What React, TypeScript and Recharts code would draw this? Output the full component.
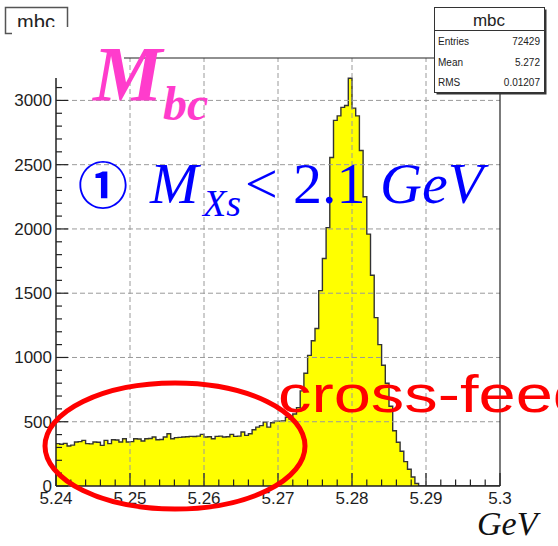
import React from "react";
import { ComposedChart, Area, XAxis, YAxis, ReferenceLine } from "recharts";

// histogram: 120 bins of 0.0005 GeV starting at 5.24
const binStart = 5.24;
const binWidth = 0.0005;
const counts = [
  330, 325, 332, 311, 318, 342, 345, 355, 330, 328,
  342, 340, 316, 355, 330, 360, 358, 342, 368, 342,
  345, 368, 366, 350, 368, 370, 381, 360, 362, 381,
  407, 368, 376, 378, 381, 383, 386, 385, 388, 402,
  381, 383, 368, 386, 388, 381, 383, 402, 386, 388,
  420, 394, 407, 438, 458, 470, 497, 458, 492, 505,
  505, 507, 535, 520, 560, 610, 740, 877, 1016, 1130,
  1225, 1520, 1770, 2010, 2556, 2845, 2880, 2946, 2960, 3172,
  2940, 2880, 2610, 2250, 1960, 1640, 1310, 1100, 940, 800,
  620, 430, 340, 270, 190, 130, 70, 20, 0, 0,
  0, 0, 0, 0, 0, 0, 0, 0, 0, 0,
  0, 0, 0, 0, 0, 0, 0, 0, 0, 0,
];

const xMajorTicks = [5.24, 5.25, 5.26, 5.27, 5.28, 5.29, 5.3];
const xMajorLabels = ["5.24", "5.25", "5.26", "5.27", "5.28", "5.29", "5.3"];
const yMajorTicks = [0, 500, 1000, 1500, 2000, 2500, 3000];
const yMajorLabels = ["0", "500", "1000", "1500", "2000", "2500", "3000"];
const xGrid = [5.25, 5.26, 5.27, 5.28, 5.29];
const yGrid = [500, 1000, 1500, 2000, 2500, 3000];
const yMax = 3330;

const statsTitle = "mbc";
const statsLabels = ["Entries", "Mean", "RMS"];
const statsValues = ["72429", "5.272", "0.01207"];

const data = counts.map((c, i) => ({ x: +(binStart + binWidth * i).toFixed(4), count: c }));
data.push({ x: 5.3, count: counts[counts.length - 1] });

const xTicks: number[] = [];
for (let k = 0; k <= 30; k++) xTicks.push(+(5.24 + 0.002 * k).toFixed(3));
const yTicks: number[] = [];
for (let v = 0; v <= 3300; v += 100) yTicks.push(v);

const labelFont = { fontFamily: "'Liberation Sans', Arial, sans-serif", fontSize: 17, fill: "#1e1e1e" };
const serif = "'Liberation Serif', 'Times New Roman', serif";

const XTick = (props: any) => {
  const { x, y, payload } = props;
  const idx = xMajorTicks.findIndex((t) => Math.abs(t - payload.value) < 1e-6);
  const major = idx >= 0;
  return (
    <g>
      <line x1={x} x2={x} y1={y} y2={y - (major ? 13 : 6.5)} stroke="#222" strokeWidth={1.2} />
      {major && (
        <text x={x} y={y + 18} textAnchor="middle" {...labelFont}>
          {xMajorLabels[idx]}
        </text>
      )}
    </g>
  );
};

const YTick = (props: any) => {
  const { x, y, payload } = props;
  const idx = yMajorTicks.indexOf(payload.value);
  const major = idx >= 0;
  return (
    <g>
      <line x1={x} x2={x + (major ? 12 : 6)} y1={y} y2={y} stroke="#222" strokeWidth={1.2} />
      {major && (
        <text x={x - 4} y={y + 6} textAnchor="end" {...labelFont}>
          {yMajorLabels[idx]}
        </text>
      )}
    </g>
  );
};

export default function App() {
  return (
    <div style={{ position: "absolute", left: 0, top: 0, width: 558, height: 546, background: "#fff" }}>
      <ComposedChart width={558} height={546} data={data} margin={{ top: 58, right: 58, left: 0, bottom: 0 }}>
        {xGrid.map((v) => (
          <ReferenceLine key={"gx" + v} x={v} stroke="#9a9a9a" strokeDasharray="5 3" />
        ))}
        {yGrid.map((v) => (
          <ReferenceLine key={"gy" + v} y={v} stroke="#9a9a9a" strokeDasharray="5 3" />
        ))}
        <Area
          type="stepAfter"
          dataKey="count"
          stroke="#333"
          strokeWidth={1.4}
          fill="#ffff00"
          fillOpacity={1}
          baseValue={0}
          isAnimationActive={false}
          dot={false}
          activeDot={false}
        />
        <ReferenceLine x={5.3} stroke="#222" strokeWidth={1.2} />
        <ReferenceLine y={yMax} stroke="#222" strokeWidth={1.2} />
        <XAxis
          type="number"
          dataKey="x"
          domain={[5.24, 5.3]}
          ticks={xTicks}
          interval={0}
          height={60}
          tickSize={0}
          tickMargin={0}
          tickLine={false}
          tick={<XTick />}
          axisLine={{ stroke: "#222", strokeWidth: 1.5 }}
          allowDataOverflow
        />
        <YAxis
          type="number"
          domain={[0, yMax]}
          ticks={yTicks}
          interval={0}
          width={56}
          tickSize={0}
          tickMargin={0}
          tickLine={false}
          tick={<YTick />}
          axisLine={{ stroke: "#222", strokeWidth: 1.5 }}
          allowDataOverflow
        />
      </ComposedChart>
      <svg
        width={558}
        height={546}
        style={{ position: "absolute", left: 0, top: 0, pointerEvents: "none" }}
      >
        {/* title box, partly hidden by the label */}
        <rect x={5.5} y={7.5} width={62} height={26} fill="#fff" stroke="#555" strokeWidth={1.5} />
        <text x={36} y={29} textAnchor="middle" fontFamily="'Liberation Sans', Arial, sans-serif" fontSize={20} fill="#222">
          mbc
        </text>
        <rect x={12} y={27} width={112} height={51} fill="#fff" />

        {/* stats box */}
        <rect x={436.5} y={9.5} width={110} height={85} fill="#333" />
        <rect x={434.5} y={7.5} width={110} height={85} fill="#fff" stroke="#333" strokeWidth={1} />
        <line x1={434.5} x2={544.5} y1={30.5} y2={30.5} stroke="#333" />
        <text x={489} y={26} textAnchor="middle" fontFamily="'Liberation Sans', Arial, sans-serif" fontSize={17} fill="#222">
          {statsTitle}
        </text>
        {statsLabels.map((l, i) => (
          <g key={l}>
            <text x={438} y={45 + i * 20.5} fontFamily="'Liberation Sans', Arial, sans-serif" fontSize={10} fill="#222">
              {l}
            </text>
            <text x={540} y={45 + i * 20.5} textAnchor="end" fontFamily="'Liberation Sans', Arial, sans-serif" fontSize={10} fill="#222">
              {statsValues[i]}
            </text>
          </g>
        ))}

        {/* M_bc */}
        <text x={93} y={100} fontFamily={serif} fontStyle="italic" fontWeight="bold" fontSize={78} fill="#ff3ccc">
          M
        </text>
        <text x={163} y={120} fontFamily={serif} fontStyle="italic" fontWeight="bold" fontSize={48} fill="#ff3ccc">
          bc
        </text>

        {/* cut */}
        <text x={78} y={204} fontFamily="'Noto Sans CJK JP', sans-serif" fontWeight="bold" fontSize={50} fill="#0000ff">
          ①
        </text>
        <text x={150} y={203} fontFamily={serif} fontStyle="italic" fontSize={58} fill="#0000ff">
          M
        </text>
        <text x={203} y={216} fontFamily={serif} fontStyle="italic" fontSize={38} fill="#0000ff">
          Xs
        </text>
        <text x={245} y={203} fontFamily={serif} fontSize={58} fill="#0000ff">
          {"<"}
        </text>
        <text x={293} y={203} fontFamily={serif} fontSize={58} fill="#0000ff">
          2.1
        </text>
        <text x={380} y={203} fontFamily={serif} fontStyle="italic" fontSize={58} fill="#0000ff">
          GeV
        </text>

        {/* annotations */}
        <text
          x={278}
          y={412}
          fontFamily="'Liberation Sans', Arial, sans-serif"
          fontSize={52}
          fill="#ff0000"
          textLength={312}
          lengthAdjust="spacingAndGlyphs"
        >
          cross-feed
        </text>
        <ellipse cx={175} cy={446} rx={130} ry={63} fill="none" stroke="#ff0000" strokeWidth={5} />

        <text x={477} y={535} fontFamily={serif} fontStyle="italic" fontSize={34} fill="#111">
          GeV
        </text>
      </svg>
    </div>
  );
}
